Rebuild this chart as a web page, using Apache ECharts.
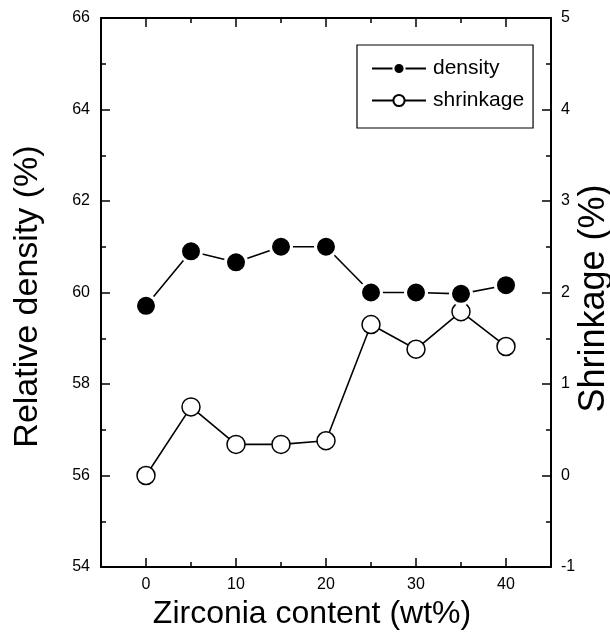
<!DOCTYPE html>
<html>
<head>
<meta charset="utf-8">
<script src="https://cdn.jsdelivr.net/npm/echarts@6/dist/echarts.min.js"></script>
<style>
  html, body { margin: 0; padding: 0; background: #fff; overflow: hidden; }
  #chart { width: 610px; height: 642px; }
</style>
</head>
<body>
<div id="chart"></div>
<script>
// zirconia content (wt%)
const zirconia = [0, 5, 10, 15, 20, 25, 30, 35, 40]
// relative density (%) - left axis
const density = [59.71, 60.9, 60.66, 61.0, 61.0, 60.0, 60.0, 59.97, 60.16]
// shrinkage (%) - right axis
const shrinkage = [0.0, 0.75, 0.34, 0.34, 0.38, 1.65, 1.38, 1.79, 1.41]
// x tick positions
const xMajor = [0, 10, 20, 30, 40]
const xMinor = [5, 15, 25, 35]

const font = 'Liberation Sans, Arial, sans-serif'
const black = '#000'

let myChart = echarts.init(document.getElementById('chart'))

// every x axis shares the same scale, they only differ in what they draw
function xAxisOf(position, tickValues, tickLen, showLine) {
  return {
    type: 'value', min: -5, max: 45, interval: 5, position: position,
    axisLine: { show: showLine, onZero: false, lineStyle: { color: black, width: 2 } },
    axisTick: { show: true, inside: true, length: tickLen, customValues: tickValues,
      lineStyle: { color: black, width: 1.5 } },
    axisLabel: { show: false },
    splitLine: { show: false }
  }
}

function pairs(ys) {
  return zirconia.map((x, i) => [x, ys[i]])
}

const bottomAxis = xAxisOf('bottom', xMajor, 9, true)
bottomAxis.axisLabel = { show: true, customValues: xMajor, color: black, fontSize: 16,
  margin: 10, fontFamily: font }
bottomAxis.name = 'Zirconia content (wt%)'
bottomAxis.nameLocation = 'middle'
bottomAxis.nameGap = 24
bottomAxis.nameTextStyle = { fontFamily: font, fontSize: 32, color: black,
  verticalAlign: 'top', padding: [0, 28, 0, 0] }

const yCommon = {
  axisLine: { show: true, onZero: false, lineStyle: { color: black, width: 2 } },
  axisTick: { inside: true, length: 9, lineStyle: { color: black, width: 1.5 } },
  minorTick: { show: true, splitNumber: 2, length: 5, lineStyle: { color: black, width: 1.5 } },
  splitLine: { show: false }
}

const option = {
  animation: false,
  backgroundColor: '#fff',
  textStyle: { fontFamily: font },
  grid: { left: 101, right: 59, top: 18, bottom: 75, containLabel: false, outerBoundsMode: 'none' },
  legend: {
    orient: 'vertical',
    left: 357, top: 45,
    padding: [13, 9, 17, 14],
    itemGap: 11,
    itemWidth: 54, itemHeight: 14,
    borderColor: black, borderWidth: 1.2,
    textStyle: { fontFamily: font, fontSize: 21, color: black, padding: [0, 0, 0, 2] },
    data: ['density', 'shrinkage']
  },
  xAxis: [
    bottomAxis,
    xAxisOf('top', xMajor, 9, true),
    xAxisOf('bottom', xMinor, 5, false),
    xAxisOf('top', xMinor, 5, false)
  ],
  yAxis: [
    Object.assign({}, yCommon, {
      type: 'value', min: 54, max: 66, interval: 2, position: 'left',
      name: 'Relative density (%)', nameLocation: 'middle', nameGap: 56, nameRotate: 90,
      nameMoveOverlap: false,
      nameTextStyle: { fontFamily: font, fontSize: 34, color: black, padding: [0, 8, 0, 0] },
      axisLabel: { color: black, fontSize: 16, margin: 11, fontFamily: font }
    }),
    Object.assign({}, yCommon, {
      type: 'value', min: -1, max: 5, interval: 1, position: 'right',
      name: 'Shrinkage (%)', nameLocation: 'middle', nameGap: 25, nameRotate: 90,
      nameMoveOverlap: false,
      nameTextStyle: { fontFamily: font, fontSize: 36, color: black, padding: [0, 12, 0, 0] },
      axisLabel: { color: black, fontSize: 16, margin: 10, fontFamily: font }
    })
  ],
  series: [
    {
      name: 'density', type: 'line', xAxisIndex: 0, yAxisIndex: 0,
      data: pairs(density),
      symbol: 'circle', symbolSize: 21,
      lineStyle: { color: black, width: 1.6 },
      itemStyle: { color: black, borderColor: '#fff', borderWidth: 3 },
      z: 3
    },
    {
      name: 'shrinkage', type: 'line', xAxisIndex: 0, yAxisIndex: 1,
      data: pairs(shrinkage),
      symbol: 'circle', symbolSize: 18,
      lineStyle: { color: black, width: 1.6 },
      itemStyle: { color: '#fff', borderColor: black, borderWidth: 1.5 },
      z: 2
    }
  ]
}

myChart.setOption(option)
window.onresize = function () {
  myChart.resize()
}
</script>
</body>
</html>
